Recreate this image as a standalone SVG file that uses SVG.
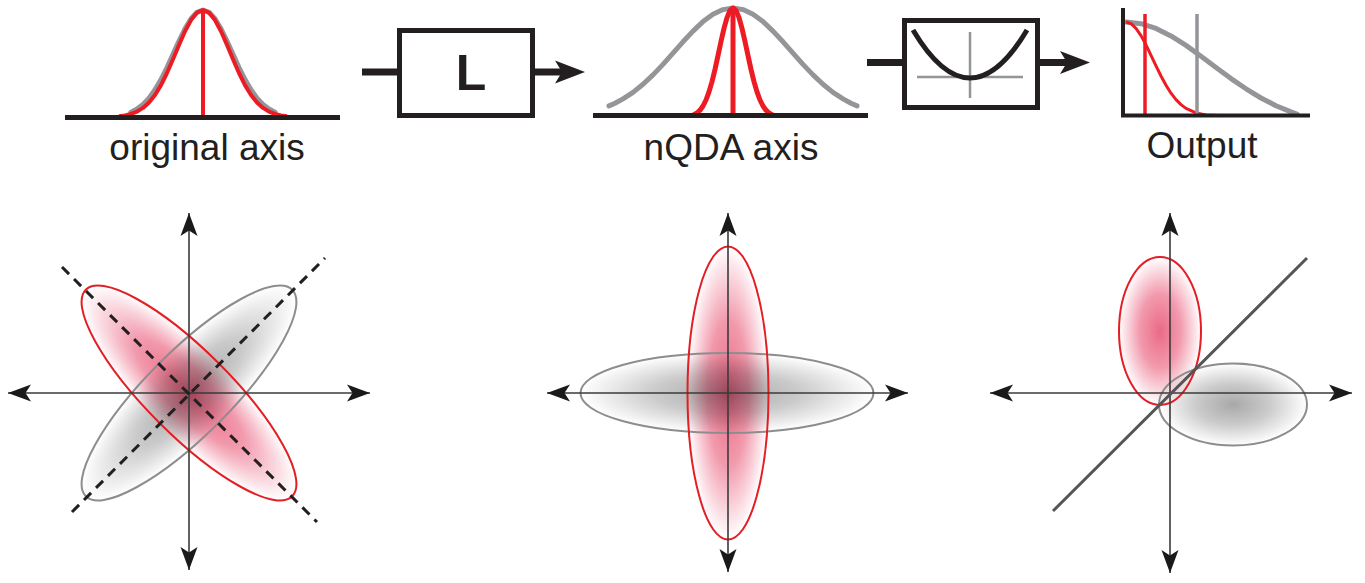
<svg xmlns="http://www.w3.org/2000/svg" width="1365" height="583" viewBox="0 0 1365 583">
<defs>
<style>
.lbl{font-family:"Liberation Sans",Arial,sans-serif;font-size:37px;fill:#231f20;text-anchor:middle}
.base{stroke:#231f20;stroke-width:5;fill:none}
.gcurve{stroke:#939598;stroke-width:5;fill:none;stroke-linejoin:round;stroke-linecap:round}
.rcurve{stroke:#ed1c24;stroke-width:4;fill:none;stroke-linejoin:round}
.box{fill:#fff;stroke:#231f20;stroke-width:5}
.stub{stroke:#231f20;stroke-width:7}
.head{fill:#231f20}
.axis{stroke:#3a3a3a;stroke-width:1.6;fill:none}
.rell{stroke:#e31e24;stroke-width:2;fill:none}
.gell{stroke:#8d8d8d;stroke-width:2;fill:none}
.rfill{fill:url(#rg);mix-blend-mode:multiply}
.gfill{fill:url(#gg)}
.dash{stroke:#231f20;stroke-width:3;stroke-dasharray:10 7;fill:none}
</style>
<radialGradient id="rg" cx="0.5" cy="0.5" r="0.5">
<stop offset="0" stop-color="#ea6a86"/>
<stop offset="0.5" stop-color="#f29aad"/>
<stop offset="1" stop-color="#ffffff"/>
</radialGradient>
<radialGradient id="gg" cx="0.5" cy="0.5" r="0.5">
<stop offset="0" stop-color="#a8a8a8"/>
<stop offset="0.5" stop-color="#cbcbcb"/>
<stop offset="1" stop-color="#ffffff"/>
</radialGradient>
<marker id="ah" viewBox="-24 -10 26 20" refX="0" refY="0" markerWidth="26" markerHeight="20" markerUnits="userSpaceOnUse" orient="auto-start-reverse">
<path d="M0,0 L-23,-8.5 L-17.5,0 L-23,8.5 Z" fill="#1a1a1a"/>
</marker>
</defs>
<rect width="1365" height="583" fill="#fff"/>

<g id="original-axis">
<polyline class="gcurve" points="131,112.1 137,109 143,104.4 149,98.1 155,89.8 161,79.5 167,67.5 173,54.3 179,41 185,28.8 191,18.8 197,12.3 203,10 209,12.3 215,18.8 221,28.8 227,41 233,54.3 239,67.5 245,79.5 251,89.8 257,98.1 263,104.4 269,109 275,112.1"/>
<polyline class="rcurve" points="119,116.2 125,115.4 131,113.9 137,111.6 143,107.9 149,102.5 155,95 161,85.1 167,73 173,59.3 179,44.9 185,31.3 191,20.1 197,12.6 203,10 209,12.6 215,20.1 221,31.3 227,44.9 233,59.3 239,73 245,85.1 251,95 257,102.5 263,107.9 269,111.6 275,113.9 281,115.4 287,116.2"/>
<line class="rcurve" x1="203" y1="9" x2="203" y2="116"/>
<line class="base" x1="65" y1="117.5" x2="340" y2="117.5"/>
<text class="lbl" x="207" y="160">original axis</text>
</g>

<g id="box-L">
<rect class="box" x="399.5" y="30.5" width="133" height="85"/>
<text x="471" y="90" font-family="Liberation Sans,Arial,sans-serif" font-weight="bold" font-size="50" fill="#231f20" text-anchor="middle">L</text>
</g>

<g id="nqda-axis">
<polyline class="gcurve" points="609,105.9 615,103.3 623,98.9 633,92.4 643,84.3 653,74.9 663,64.4 673,53.1 683,41.8 693,31.1 703,21.6 713,14.3 723,9.6 733,8 743,9.6 753,14.3 763,21.6 773,31.1 783,41.8 793,53.1 803,64.4 813,74.9 823,84.3 833,92.4 843,98.9 851,103.3 857,105.9"/>
<polyline class="rcurve" style="stroke-width:5" points="693,115.2 697,113 700,110.2 703,106 706,100 709,91.9 712,81.6 715,69.4 718,55.6 721,41.5 724,28.4 727,17.6 730,10.5 733,8 736,10.5 739,17.6 742,28.4 745,41.5 748,55.6 751,69.4 754,81.6 757,91.9 760,100 763,106 766,110.2 769,113 773,115.2"/>
<line class="rcurve" style="stroke-width:5" x1="733" y1="7" x2="733" y2="115"/>
<line class="base" x1="593" y1="115.5" x2="868" y2="115.5"/>
<text class="lbl" x="731" y="160">nQDA axis</text>
</g>

<g id="box-quadratic">
<rect class="box" x="904.5" y="20.5" width="133" height="87"/>
<line x1="917" y1="77" x2="1023" y2="77" stroke="#939598" stroke-width="2.5"/>
<line x1="970" y1="32" x2="970" y2="98" stroke="#939598" stroke-width="2.5"/>
<path d="M913,30 Q970,126 1027,30" fill="none" stroke="#231f20" stroke-width="5"/>
</g>

<g id="output">
<polyline class="gcurve" points="1126,22 1141,23.7 1156,28.4 1171,35.9 1186,45.4 1201,56.2 1216,67.5 1231,78.6 1246,88.8 1261,98 1276,105.7 1291,111.9 1297,114"/>
<polyline class="rcurve" style="stroke-width:3" points="1126,22 1131,23.6 1136,28.3 1141,35.6 1146,44.9 1151,55.3 1156,65.8 1161,76 1166,85.3 1171,93.2 1176,99.6 1181,104.6 1186,108.4 1196,112.9 1206,114.9 1218,115.5"/>
<line x1="1145" y1="14" x2="1145" y2="114" stroke="#ed1c24" stroke-width="3.5"/>
<line x1="1197" y1="14" x2="1197" y2="114" stroke="#939598" stroke-width="3.5"/>
<polyline class="base" points="1123,8 1123,115.5 1310,115.5" style="stroke-width:4"/>
<text class="lbl" x="1202" y="158">Output</text>
</g>

<g id="connectors">
<line class="stub" x1="362" y1="72" x2="399" y2="72"/>
<line class="stub" x1="533" y1="72" x2="565" y2="72"/>
<path class="head" d="M585,72 L555,60.5 L562,72 L555,83.5 Z"/>
<line class="stub" x1="867" y1="62.5" x2="904" y2="62.5"/>
<line class="stub" x1="1038" y1="62.5" x2="1070" y2="62.5"/>
<path class="head" d="M1090,62.5 L1060,51 L1067,62.5 L1060,74 Z"/>
</g>

<g id="plot-original">
<g style="isolation:isolate">
<ellipse class="gfill" cx="0" cy="0" rx="146" ry="42" transform="translate(189,393) rotate(-45)"/>
<ellipse class="rfill" cx="0" cy="0" rx="146" ry="42" transform="translate(189,393) rotate(45)"/>
</g>
<ellipse class="gell" cx="0" cy="0" rx="146" ry="42" transform="translate(189,393) rotate(-45)"/>
<ellipse class="rell" cx="0" cy="0" rx="146" ry="42" transform="translate(189,393) rotate(45)"/>
<line class="axis" x1="8" y1="393" x2="370" y2="393" marker-start="url(#ah)" marker-end="url(#ah)"/>
<line class="axis" x1="189" y1="213" x2="189" y2="570" marker-start="url(#ah)" marker-end="url(#ah)"/>
<line class="dash" x1="62" y1="267" x2="317" y2="522"/>
<line class="dash" x1="72" y1="512" x2="325" y2="258"/>
</g>

<g id="plot-nqda">
<g style="isolation:isolate">
<ellipse class="gfill" cx="727" cy="393" rx="146.5" ry="40"/>
<ellipse class="rfill" cx="728" cy="393" rx="40.5" ry="146.5"/>
</g>
<ellipse class="gell" cx="727" cy="393" rx="146.5" ry="40"/>
<ellipse class="rell" cx="728" cy="393" rx="40.5" ry="146.5"/>
<line class="axis" x1="547" y1="393" x2="908" y2="393" marker-start="url(#ah)" marker-end="url(#ah)"/>
<line class="axis" x1="728" y1="213" x2="728" y2="572" marker-start="url(#ah)" marker-end="url(#ah)"/>
</g>

<g id="plot-output">
<g style="isolation:isolate">
<ellipse class="gfill" cx="1233" cy="404.5" rx="74" ry="41"/>
<ellipse class="rfill" cx="1160" cy="331" rx="41" ry="74"/>
</g>
<ellipse class="gell" cx="1233" cy="404.5" rx="74" ry="41"/>
<ellipse class="rell" cx="1160" cy="331" rx="41" ry="74"/>
<line class="axis" x1="990" y1="393" x2="1352" y2="393" marker-start="url(#ah)" marker-end="url(#ah)"/>
<line class="axis" x1="1170" y1="213" x2="1170" y2="573" marker-start="url(#ah)" marker-end="url(#ah)"/>
<line x1="1053" y1="511" x2="1307" y2="258" stroke="#555" stroke-width="3"/>
</g>
</svg>
